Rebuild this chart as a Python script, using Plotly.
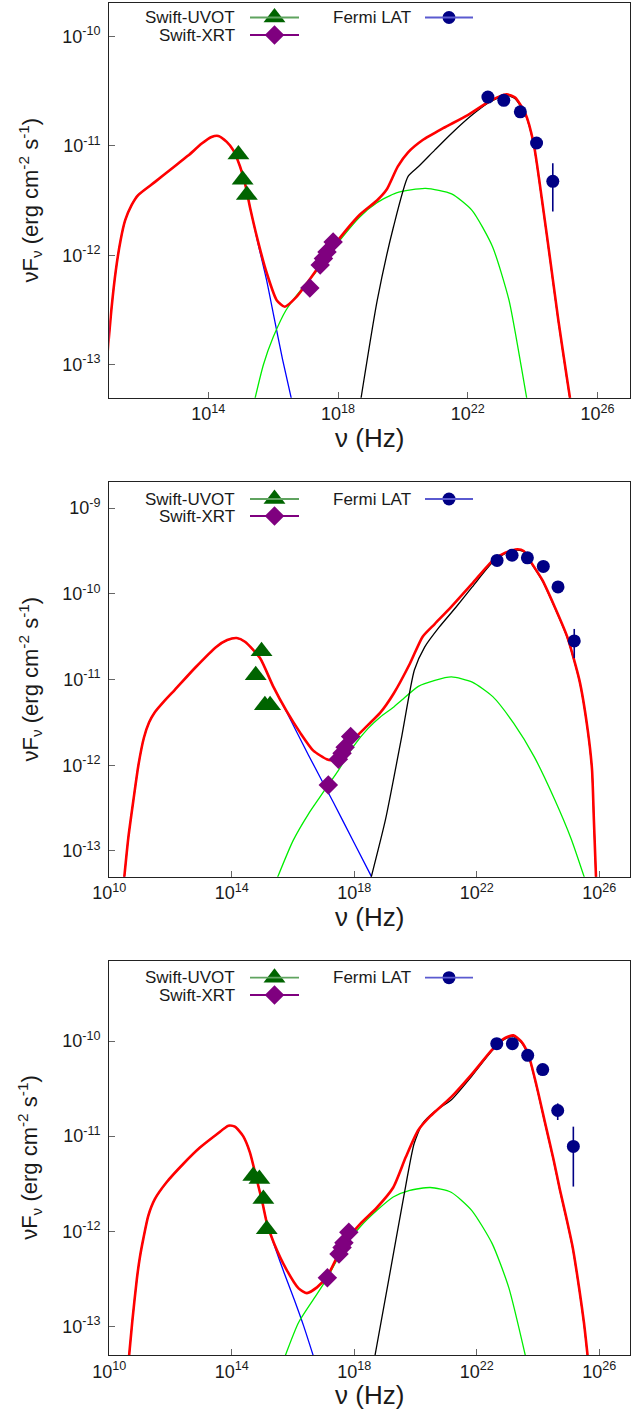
import numpy as np
import plotly.graph_objects as go

FIG_W, FIG_H = 644, 1414
FONT = "Liberation Sans, Arial, Helvetica, sans-serif"
TXT = "#1a1a1a"

# All values are log10(nu / Hz) and log10(nuFnu / erg cm^-2 s^-1)

# ---------------- Panel 1 ----------------
P1_TOT_NU = [10.90, 11.02, 11.15, 11.30, 11.44, 11.64, 11.84, 12.36, 12.87, 13.38, 13.80, 14.10,
             14.31, 14.57, 14.77, 14.98, 15.13, 15.30, 15.54, 15.80, 16.11, 16.36, 16.72, 17.13,
             17.85, 18.67, 19.20, 19.50, 19.84, 20.16, 20.60, 21.24, 22.00, 22.63, 22.89, 23.20,
             23.46, 23.78, 24.03, 24.29, 24.54, 24.79, 25.05, 25.20]
P1_TOT_F = [-12.88, -12.48, -12.14, -11.86, -11.68, -11.54, -11.45, -11.33, -11.21, -11.09, -10.98, -10.92,
            -10.91, -10.965, -11.04, -11.19, -11.34, -11.58, -11.88, -12.16, -12.41, -12.47, -12.38, -12.22,
            -11.92, -11.63, -11.50, -11.40, -11.19, -11.06, -10.95, -10.84, -10.72, -10.60, -10.56, -10.53,
            -10.56, -10.71, -10.98, -11.50, -12.04, -12.59, -13.11, -13.40]
P1_SYN_NU = [10.90, 11.02, 11.15, 11.30, 11.44, 11.64, 11.84, 12.36, 12.87, 13.38, 13.80, 14.10,
             14.31, 14.57, 14.77, 14.98, 15.13, 15.30, 15.54, 15.80, 16.03, 16.29, 16.60]
P1_SYN_F = [-12.88, -12.48, -12.14, -11.86, -11.68, -11.54, -11.45, -11.33, -11.21, -11.09, -10.98, -10.92,
            -10.91, -10.965, -11.04, -11.19, -11.34, -11.58, -11.90, -12.23, -12.57, -12.95, -13.36]
P1_SSC_NU = [15.40, 15.70, 16.00, 16.40, 16.90, 17.30, 17.85, 18.67, 19.20, 19.80, 20.70, 21.50,
             22.13, 22.76, 23.27, 23.65, 23.86]
P1_SSC_F = [-13.36, -13.00, -12.75, -12.50, -12.30, -12.16, -11.94, -11.65, -11.52, -11.43, -11.39, -11.44,
            -11.59, -11.92, -12.41, -13.02, -13.38]
P1_EC_NU = [18.68, 19.21, 19.71, 20.16, 20.48, 20.98, 21.49, 22.13, 22.63, 22.89, 23.20, 23.46,
            23.78, 24.03, 24.29, 24.54, 24.79, 25.05, 25.20]
P1_EC_F = [-13.36, -12.41, -11.74, -11.28, -11.19, -11.04, -10.89, -10.72, -10.61, -10.57, -10.54, -10.57,
           -10.72, -10.99, -11.51, -12.05, -12.60, -13.12, -13.41]
P1_UVOT_NU = [14.93, 15.06, 15.19]
P1_UVOT_F = [-11.08, -11.31, -11.45]
P1_XRT_NU = [17.13, 17.45, 17.55, 17.66, 17.85]
P1_XRT_F = [-12.30, -12.09, -12.03, -11.97, -11.88]
P1_LAT_NU = [22.62, 23.11, 23.62, 24.12, 24.62]
P1_LAT_F = [-10.555, -10.585, -10.69, -10.975, -11.325]
P1_LAT_HI = [-10.54, -10.57, -10.675, -10.93, -11.16]
P1_LAT_LO = [-10.57, -10.60, -10.705, -11.02, -11.60]

# ---------------- Panel 2 ----------------
P2_TOT_NU = [10.45, 10.62, 10.79, 10.95, 11.13, 11.30, 11.47, 11.80, 12.14, 12.81, 13.49, 13.85,
             14.16, 14.43, 14.92, 15.35, 15.79, 16.23, 16.66, 17.10, 17.25, 17.50, 17.97, 18.45,
             18.84, 19.29, 19.82, 20.23, 20.63, 21.17, 21.85, 22.52, 22.93, 23.33, 23.53, 23.73,
             24.14, 24.54, 24.95, 25.35, 25.62, 25.76, 25.82, 25.90]
P2_TOT_F = [-13.45, -12.85, -12.40, -12.00, -11.68, -11.50, -11.39, -11.25, -11.12, -10.86, -10.62, -10.54,
            -10.516, -10.56, -10.75, -11.08, -11.37, -11.62, -11.83, -11.93, -11.94, -11.88, -11.70, -11.53,
            -11.39, -11.16, -10.81, -10.50, -10.35, -10.15, -9.88, -9.61, -9.52, -9.48, -9.50, -9.61,
            -9.84, -10.15, -10.50, -11.01, -11.59, -12.05, -12.63, -13.40]
P2_SYN_NU = [10.45, 10.62, 10.79, 10.95, 11.13, 11.30, 11.47, 11.80, 12.14, 12.81, 13.49, 13.85,
             14.16, 14.43, 14.92, 15.35, 15.79, 16.50, 17.31, 18.00, 18.56]
P2_SYN_F = [-13.45, -12.85, -12.40, -12.00, -11.68, -11.50, -11.39, -11.25, -11.12, -10.86, -10.62, -10.54,
            -10.516, -10.56, -10.75, -11.08, -11.38, -11.88, -12.43, -12.91, -13.30]
P2_SSC_NU = [15.48, 16.00, 16.50, 16.88, 17.15, 17.48, 17.97, 18.45, 18.84, 19.29, 19.55, 20.09,
             20.63, 21.17, 21.85, 22.52, 23.20, 23.87, 24.54, 25.08, 25.52]
P2_SSC_F = [-13.32, -12.88, -12.57, -12.37, -12.23, -12.06, -11.78, -11.57, -11.44, -11.32, -11.24, -11.08,
            -11.01, -10.97, -11.03, -11.20, -11.51, -11.90, -12.40, -12.86, -13.32]
P2_EC_NU = [18.52, 19.02, 19.55, 19.96, 20.30, 20.77, 21.31, 21.85, 22.52, 22.93, 23.33, 23.53,
            23.73, 24.14, 24.54, 24.95, 25.35, 25.62, 25.76, 25.82, 25.90]
P2_EC_F = [-13.35, -12.63, -11.66, -10.89, -10.62, -10.39, -10.16, -9.92, -9.63, -9.53, -9.49, -9.51,
           -9.62, -9.85, -10.16, -10.51, -11.02, -11.60, -12.06, -12.64, -13.41]
P2_UVOT_NU = [14.78, 14.97, 15.08, 15.25]
P2_UVOT_F = [-10.95, -10.67, -11.30, -11.30]
P2_XRT_NU = [17.15, 17.48, 17.60, 17.70, 17.88]
P2_XRT_F = [-12.23, -11.93, -11.86, -11.79, -11.665]
P2_LAT_NU = [22.66, 23.15, 23.65, 24.17, 24.65, 25.18]
P2_LAT_F = [-9.61, -9.55, -9.58, -9.68, -9.92, -10.55]
P2_LAT_HI = [-9.595, -9.535, -9.565, -9.665, -9.90, -10.41]
P2_LAT_LO = [-9.625, -9.565, -9.595, -9.695, -9.94, -10.75]

# ---------------- Panel 3 ----------------
P3_TOT_NU = [10.62, 10.75, 10.90, 11.00, 11.11, 11.27, 11.49, 11.87, 12.42, 12.96, 13.51, 13.89,
             14.10, 14.37, 14.59, 14.81, 15.00, 15.15, 15.37, 15.78, 16.18, 16.45, 16.78, 17.12,
             17.66, 18.20, 18.74, 19.27, 19.68, 20.08, 20.48, 21.16, 21.83, 22.50, 22.91, 23.19,
             23.44, 23.68, 23.95, 24.22, 24.50, 24.71, 24.93, 25.13, 25.35, 25.50, 25.64]
P3_TOT_F = [-13.40, -12.95, -12.50, -12.27, -12.08, -11.84, -11.66, -11.485, -11.29, -11.12, -10.98, -10.89,
            -10.90, -11.00, -11.17, -11.45, -11.70, -11.92, -12.12, -12.40, -12.60, -12.65, -12.59, -12.47,
            -12.13, -11.92, -11.75, -11.54, -11.22, -10.94, -10.79, -10.59, -10.35, -10.09, -9.97, -9.94,
            -10.00, -10.14, -10.47, -10.85, -11.24, -11.56, -11.87, -12.17, -12.62, -12.97, -13.38]
P3_SYN_NU = [10.62, 10.75, 10.90, 11.00, 11.11, 11.27, 11.49, 11.87, 12.42, 12.96, 13.51, 13.89,
             14.10, 14.37, 14.59, 14.81, 15.00, 15.15, 15.40, 15.70, 16.04, 16.35, 16.68]
P3_SYN_F = [-13.40, -12.95, -12.50, -12.27, -12.08, -11.84, -11.66, -11.485, -11.29, -11.12, -10.98, -10.89,
            -10.90, -11.00, -11.17, -11.45, -11.70, -11.92, -12.16, -12.43, -12.72, -13.00, -13.33]
P3_SSC_NU = [15.72, 16.18, 16.72, 17.12, 17.66, 18.20, 18.74, 19.27, 19.81, 20.48, 21.16, 21.83,
             22.50, 23.04, 23.60]
P3_SSC_F = [-13.33, -12.96, -12.69, -12.49, -12.17, -11.95, -11.78, -11.64, -11.57, -11.54, -11.59, -11.78,
            -12.13, -12.59, -13.33]
P3_EC_NU = [18.65, 19.14, 19.61, 19.95, 20.22, 20.62, 21.16, 21.83, 22.50, 22.91, 23.19, 23.44,
            23.68, 23.95, 24.22, 24.50, 24.71, 24.93, 25.13, 25.35, 25.50, 25.64]
P3_EC_F = [-13.35, -12.48, -11.64, -11.08, -10.87, -10.74, -10.62, -10.37, -10.10, -9.98, -9.95, -10.01,
           -10.15, -10.48, -10.86, -11.25, -11.57, -11.88, -12.18, -12.63, -12.98, -13.39]
P3_UVOT_NU = [14.70, 14.90, 15.03, 15.14]
P3_UVOT_F = [-11.42, -11.45, -11.66, -11.98]
P3_XRT_NU = [17.12, 17.50, 17.60, 17.66, 17.82]
P3_XRT_F = [-12.49, -12.24, -12.17, -12.12, -12.01]
P3_LAT_NU = [22.65, 23.16, 23.66, 24.15, 24.64, 25.15]
P3_LAT_F = [-10.027, -10.027, -10.15, -10.30, -10.73, -11.108]
P3_LAT_HI = [-10.015, -10.015, -10.135, -10.28, -10.655, -10.90]
P3_LAT_LO = [-10.04, -10.04, -10.165, -10.32, -10.83, -11.53]

# Axis ranges (log10) and labelled tick exponents
X_RANGES = [(10.95, 27.0), (10.0, 27.0), (10.0, 27.0)]
Y_RANGES = [(np.log10(5e-14), np.log10(2e-10)),
            (np.log10(5e-14), np.log10(2e-9)),
            (np.log10(5e-14), np.log10(7e-10))]
X_TICK_EXP = [[14, 18, 22, 26], [10, 14, 18, 22, 26], [10, 14, 18, 22, 26]]
Y_TICK_EXP = [[-13, -12, -11, -10], [-13, -12, -11, -10, -9], [-13, -12, -11, -10]]

PANELS = [
    dict(tot=(P1_TOT_NU, P1_TOT_F), syn=(P1_SYN_NU, P1_SYN_F), ssc=(P1_SSC_NU, P1_SSC_F),
         ec=(P1_EC_NU, P1_EC_F), uvot=(P1_UVOT_NU, P1_UVOT_F), xrt=(P1_XRT_NU, P1_XRT_F),
         lat=(P1_LAT_NU, P1_LAT_F, P1_LAT_HI, P1_LAT_LO)),
    dict(tot=(P2_TOT_NU, P2_TOT_F), syn=(P2_SYN_NU, P2_SYN_F), ssc=(P2_SSC_NU, P2_SSC_F),
         ec=(P2_EC_NU, P2_EC_F), uvot=(P2_UVOT_NU, P2_UVOT_F), xrt=(P2_XRT_NU, P2_XRT_F),
         lat=(P2_LAT_NU, P2_LAT_F, P2_LAT_HI, P2_LAT_LO)),
    dict(tot=(P3_TOT_NU, P3_TOT_F), syn=(P3_SYN_NU, P3_SYN_F), ssc=(P3_SSC_NU, P3_SSC_F),
         ec=(P3_EC_NU, P3_EC_F), uvot=(P3_UVOT_NU, P3_UVOT_F), xrt=(P3_XRT_NU, P3_XRT_F),
         lat=(P3_LAT_NU, P3_LAT_F, P3_LAT_HI, P3_LAT_LO)),
]

# Frame geometry in pixels
PLOT_LEFT, PLOT_RIGHT = 109.3, 630.0
PLOT_TOPS = [3.3, 482.3, 960.7]
PLOT_BOTTOMS = [397.7, 876.7, 1355.0]
KEY_ROWS = [(17.5, 35.0), (499.0, 516.0), (977.7, 995.0)]

C_UVOT, C_UVOT_LINE = "#006400", "#5fa35f"
C_XRT, C_XRT_LINE = "#7f007f", "#7f007f"
C_LAT, C_LAT_LINE = "#000085", "#5a5ad0"


def pw(v):
    return [10.0 ** a for a in v]


fig = go.Figure()
layout = {}
annotations = []
shapes = []

for i, p in enumerate(PANELS):
    n = "" if i == 0 else str(i + 1)
    xa, ya = "x" + n, "y" + n

    def add_curve(key, color, width):
        nu, f = p[key]
        fig.add_trace(go.Scatter(x=pw(nu), y=pw(f), mode="lines", xaxis=xa, yaxis=ya,
                                 line=dict(color=color, width=width, shape="spline", smoothing=0.6),
                                 hoverinfo="skip", showlegend=False))

    add_curve("syn", "#0000ff", 1.3)
    add_curve("ssc", "#00ee00", 1.3)
    add_curve("ec", "#000000", 1.3)
    add_curve("tot", "#ff0000", 2.6)

    nu, f = p["uvot"]
    fig.add_trace(go.Scatter(x=pw(nu), y=pw(f), mode="markers", xaxis=xa, yaxis=ya,
                             marker=dict(symbol="triangle-up", size=19, color=C_UVOT),
                             showlegend=False, cliponaxis=False))
    nu, f = p["xrt"]
    fig.add_trace(go.Scatter(x=pw(nu), y=pw(f), mode="markers", xaxis=xa, yaxis=ya,
                             marker=dict(symbol="diamond", size=15, color=C_XRT),
                             showlegend=False, cliponaxis=False))
    nu, f, hi, lo = p["lat"]
    yv = np.array(pw(f))
    fig.add_trace(go.Scatter(x=pw(nu), y=yv, mode="markers", xaxis=xa, yaxis=ya,
                             marker=dict(symbol="circle", size=13, color=C_LAT),
                             error_y=dict(type="data", symmetric=False,
                                          array=list(np.array(pw(hi)) - yv),
                                          arrayminus=list(yv - np.array(pw(lo))),
                                          color=C_LAT, thickness=1.6, width=0),
                             showlegend=False, cliponaxis=False))

    top, bot = PLOT_TOPS[i], PLOT_BOTTOMS[i]
    axis_common = dict(type="log", showgrid=False, zeroline=False, showline=True, mirror=True,
                       linecolor="#222222", linewidth=1.3, ticks="inside", ticklen=6,
                       tickwidth=1, tickcolor="#666666", automargin=False,
                       tickfont=dict(family=FONT, size=18, color=TXT), fixedrange=True)
    layout["xaxis" + n] = dict(axis_common, domain=[PLOT_LEFT / FIG_W, PLOT_RIGHT / FIG_W],
                               range=list(X_RANGES[i]), anchor=ya,
                               tickvals=[10.0 ** e for e in X_TICK_EXP[i]],
                               ticktext=["10<sup>%d</sup>" % e for e in X_TICK_EXP[i]])
    layout["yaxis" + n] = dict(axis_common, domain=[1 - bot / FIG_H, 1 - top / FIG_H],
                               range=list(Y_RANGES[i]), anchor=xa, ticklabelstandoff=4,
                               tickvals=[10.0 ** e for e in Y_TICK_EXP[i]],
                               ticktext=["10<sup>%d</sup>" % e for e in Y_TICK_EXP[i]])

    # axis titles
    annotations.append(dict(xref="x4", yref="y4", x=30, y=(top + bot) / 2, textangle=-90,
                            text="νF<sub>ν</sub> (erg cm<sup>-2</sup> s<sup>-1</sup>)",
                            showarrow=False, xanchor="center", yanchor="middle",
                            font=dict(family=FONT, size=22, color=TXT)))
    annotations.append(dict(xref="x4", yref="y4", x=(PLOT_LEFT + PLOT_RIGHT) / 2, y=bot + 40,
                            text="ν (Hz)", showarrow=False, xanchor="center", yanchor="middle",
                            font=dict(family=FONT, size=26, color=TXT)))

    # key
    r1, r2 = KEY_ROWS[i]
    key_items = [("Swift-UVOT", 237, 250, 299, r1, C_UVOT_LINE, C_UVOT, "triangle-up", 19),
                 ("Swift-XRT", 237, 250, 299, r2, C_XRT_LINE, C_XRT, "diamond", 15),
                 ("Fermi LAT", 413, 425, 473, r1, C_LAT_LINE, C_LAT, "circle", 13)]
    for label, tx, lx0, lx1, ry, lc, mc, sym, sz in key_items:
        annotations.append(dict(xref="x4", yref="y4", x=tx, y=ry, text=label, showarrow=False,
                                xanchor="right", yanchor="middle",
                                font=dict(family=FONT, size=17, color=TXT)))
        shapes.append(dict(type="line", xref="x4", yref="y4", x0=lx0, x1=lx1, y0=ry, y1=ry,
                           line=dict(color=lc, width=1.8)))
        fig.add_trace(go.Scatter(x=[(lx0 + lx1) / 2], y=[ry], mode="markers", xaxis="x4", yaxis="y4",
                                 marker=dict(symbol=sym, size=sz, color=mc), showlegend=False,
                                 hoverinfo="skip", cliponaxis=False))

# full-figure pixel frame used for titles and keys
layout["xaxis4"] = dict(domain=[0, 1], range=[0, FIG_W], visible=False, fixedrange=True,
                        anchor="y4", automargin=False)
layout["yaxis4"] = dict(domain=[0, 1], range=[FIG_H, 0], visible=False, fixedrange=True,
                        anchor="x4", automargin=False)

fig.update_layout(
    width=FIG_W, height=FIG_H, autosize=False,
    margin=dict(l=0, r=0, t=0, b=0, pad=0, autoexpand=False),
    paper_bgcolor="white", plot_bgcolor="rgba(0,0,0,0)", showlegend=False,
    annotations=annotations, shapes=shapes, **layout,
)

fig.write_html("out.html", config={"displayModeBar": False})
